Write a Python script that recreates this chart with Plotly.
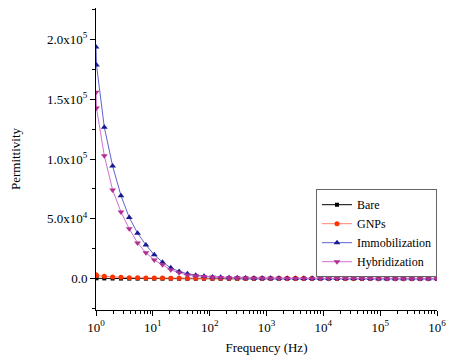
import plotly.graph_objects as go

freq = [1.0, 1.02, 1.40, 1.96, 2.75, 3.85, 5.39, 7.55, 10.6, 14.8, 20.7, 29.0, 40.6,
        56.9, 79.6, 112, 156, 219, 306, 429, 601, 841, 1180, 1650, 2310, 3240, 4530,
        6340, 8880, 12400, 17400, 24400, 34100, 47800, 67000, 93800, 131000, 184000,
        257000, 361000, 505000, 707000, 1000000]

bare = [600, 450, 350, 280, 230, 200, 180, 165, 150, 140, 130, 125, 120, 115, 110,
        108, 105, 103, 100, 100, 100, 100, 100, 100, 100, 100, 100, 100, 100, 100,
        100, 100, 100, 100, 100, 100, 100, 100, 100, 100, 100, 100, 100]

gnps = [3500, 2800, 2100, 1600, 1250, 1000, 850, 750, 680, 620, 580, 550, 520, 500,
        480, 460, 450, 440, 430, 420, 410, 400, 400, 400, 400, 400, 400, 400, 400,
        400, 400, 400, 400, 400, 400, 400, 400, 400, 400, 400, 400, 400, 400]

immob = [193500, 178500, 126500, 94200, 69400, 51100, 38100, 28300, 20000, 13900,
         9200, 6100, 4200, 2900, 2100, 1600, 1250, 1000, 820, 680, 580, 500, 440, 390,
         350, 320, 290, 270, 250, 235, 220, 210, 200, 190, 182, 175, 168, 162, 156,
         150, 145, 140, 135]

hybrid = [155800, 142500, 102800, 74200, 55800, 41700, 30000, 21700, 15800, 11700,
          7500, 5000, 3300, 2500, 1900, 1500, 1200, 980, 810, 680, 580, 500, 440, 390,
          350, 320, 290, 270, 250, 235, 220, 210, 200, 190, 182, 175, 168, 162, 156,
          150, 145, 140, 135]

series_names = ["Bare", "GNPs", "Immobilization", "Hybridization"]

y_tickvals = [0, 50000, 100000, 150000, 200000]
y_ticktext = ["0.0", "5.0x10<sup>4</sup>", "1.0x10<sup>5</sup>",
              "1.5x10<sup>5</sup>", "2.0x10<sup>5</sup>"]
x_tickvals = [1, 10, 100, 1000, 10000, 100000, 1000000]
x_ticktext = ["10<sup>0</sup>", "10<sup>1</sup>", "10<sup>2</sup>", "10<sup>3</sup>",
              "10<sup>4</sup>", "10<sup>5</sup>", "10<sup>6</sup>"]
x_minor = [m * 10 ** d for d in range(6) for m in range(2, 10)]

FONT = "Liberation Serif"

fig = go.Figure()
styles = [
    (bare, "#000000", "#000000", "square", 4),
    (gnps, "#FF8070", "#FF3300", "circle", 5),
    (immob, "#6060D0", "#1A1A90", "triangle-up", 6),
    (hybrid, "#D070D0", "#B03090", "triangle-down", 6),
]
for name, (ys, lc, mc, sym, ms) in zip(series_names, styles):
    fig.add_trace(go.Scatter(
        x=freq, y=ys, name=name, mode="lines+markers",
        line=dict(color=lc, width=1),
        marker=dict(color=mc, symbol=sym, size=ms, line=dict(width=0)),
    ))

# page body has an 8px margin, so the figure is offset by 8px
fig.update_layout(
    width=447, height=347,
    margin=dict(l=84, r=18, t=0, b=45),
    paper_bgcolor="white", plot_bgcolor="white",
    font=dict(family=FONT, size=13, color="black"),
    showlegend=True,
    legend=dict(x=1.0, y=0.40, xanchor="right", yanchor="top",
                bgcolor="white", bordercolor="#666666", borderwidth=1,
                font=dict(family=FONT, size=12), tracegroupgap=0,
                itemwidth=30),
)
fig.update_xaxes(
    type="log", range=[0, 6],
    tickvals=x_tickvals, ticktext=x_ticktext,
    ticklabeloverflow="allow",
    ticks="outside", ticklen=5, tickwidth=1, tickcolor="black",
    minor=dict(ticks="outside", ticklen=3, tickvals=x_minor, tickcolor="black", showgrid=False),
    showline=True, linecolor="black", linewidth=1,
    showgrid=False, zeroline=False,
    title=dict(text="Frequency (Hz)", font=dict(family=FONT, size=13), standoff=11),
    tickfont=dict(family=FONT, size=13),
)
fig.update_yaxes(
    range=[-26000, 226000],
    tickvals=y_tickvals, ticktext=y_ticktext,
    ticks="outside", ticklen=5, tickwidth=1, tickcolor="black",
    minor=dict(ticks="outside", ticklen=3, dtick=25000, tick0=0, tickcolor="black", showgrid=False),
    showline=True, linecolor="black", linewidth=1,
    showgrid=False, zeroline=False,
    title=dict(text="Permittivity", font=dict(family=FONT, size=13), standoff=30),
    tickfont=dict(family=FONT, size=13),
)

fig.write_html("out.html")
